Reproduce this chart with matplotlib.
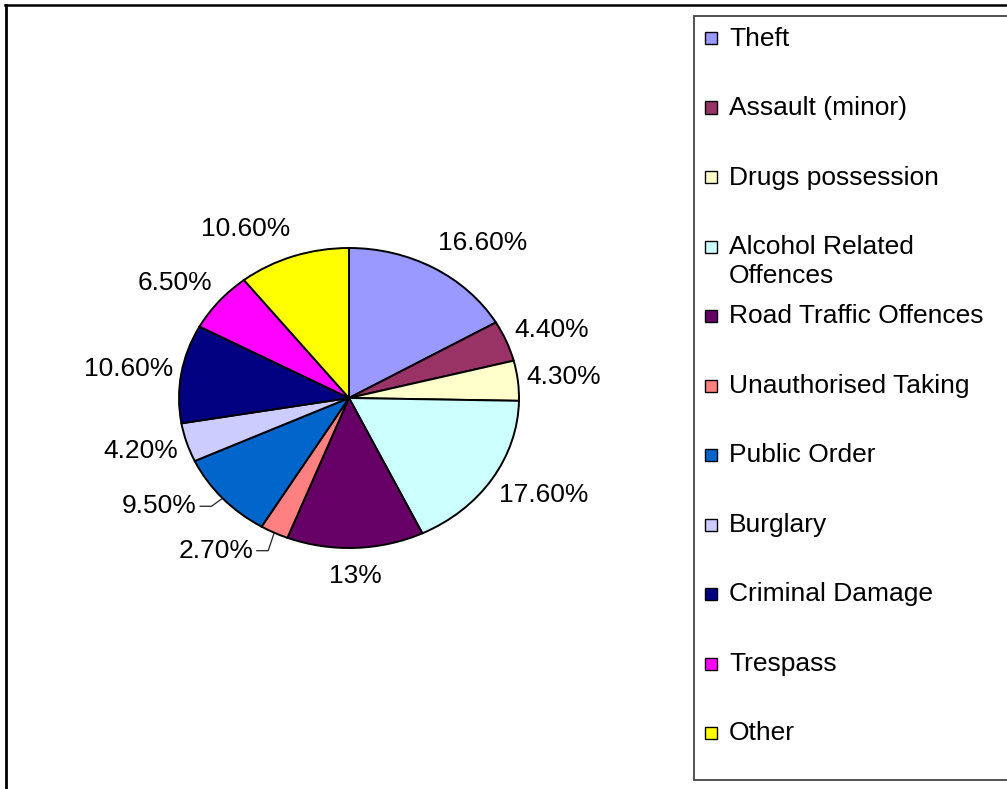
import matplotlib
matplotlib.use("Agg")
import numpy as np
import matplotlib.pyplot as plt
from matplotlib.patches import Rectangle
from matplotlib.lines import Line2D

# Offence categories and their share of the total (%)
categories = [
    "Theft", "Assault (minor)", "Drugs possession", "Alcohol Related\nOffences",
    "Road Traffic Offences", "Unauthorised Taking", "Public Order", "Burglary",
    "Criminal Damage", "Trespass", "Other",
]
shares = [16.6, 4.4, 4.3, 17.6, 13.0, 2.7, 9.5, 4.2, 10.6, 6.5, 10.6]
value_labels = ["16.60%", "4.40%", "4.30%", "17.60%", "13%", "2.70%",
                "9.50%", "4.20%", "10.60%", "6.50%", "10.60%"]
colors = ["#9999FF", "#993366", "#FFFFCC", "#CCFFFF", "#660066", "#FF8080",
          "#0066CC", "#CCCCFF", "#000080", "#FF00FF", "#FFFF00"]

plt.rcParams['font.family'] = ['Liberation Sans', 'DejaVu Sans']
FS = 19

W, H, DPI = 1007, 789, 100
fig = plt.figure(figsize=(W / DPI, H / DPI), dpi=DPI)
fig.patch.set_facecolor("white")

# Pie placement (pixels): centre and the two radii of the flattened pie
cx, cy = 349, 398
rx, ry = 170, 150
lim = 1.6
ax = fig.add_axes([(cx - lim * rx) / W, (H - cy - lim * ry) / H,
                   2 * lim * rx / W, 2 * lim * ry / H])
wedges, _ = ax.pie(shares, colors=colors, startangle=90, counterclock=False,
                   wedgeprops=dict(edgecolor="black", linewidth=1.4))
ax.set_aspect("auto")
ax.set_xlim(-lim, lim)
ax.set_ylim(-lim, lim)
ax.axis("off")

# Labels pulled away from the crowded lower-left, with leader lines
# (label right-end offset in px from the wedge edge, elbow x offset in px)
leader = {5: (-21, 18, -6), 6: (-26, 8, -11)}

px_x, px_y = 1.0 / rx, 1.0 / ry
for i, (w, txt) in enumerate(zip(wedges, value_labels)):
    mid = np.deg2rad((w.theta1 + w.theta2) / 2)
    ux, uy = np.cos(mid), np.sin(mid)
    if i in leader:
        dx, dy, ex = leader[i]
        x0, y0 = ux, uy
        xe, ye = x0 + ex * px_x, y0 - dy * px_y
        xl = x0 + (dx + 3) * px_x
        ax.plot([x0, xe, xl], [y0, ye, ye], color="#222222", lw=0.9,
                solid_capstyle="butt")
        ax.text(x0 + dx * px_x, ye, txt, ha="right", va="center",
                fontsize=FS, color="black")
        continue
    if abs(ux) < 0.1:
        ha = "center"
    elif ux > 0:
        ha = "left"
    else:
        ha = "right"
    ax.text(1.05 * ux, 1.19 * uy, txt, ha=ha, va="center",
            fontsize=FS, color="black")

# Outer chart frame (top and left edges)
fig.add_artist(Line2D([5 / W, 1.0], [1 - 5 / H, 1 - 5 / H],
                      transform=fig.transFigure, color="black", lw=1.8))
fig.add_artist(Line2D([6 / W, 6 / W], [1 - 5 / H, 0.0],
                      transform=fig.transFigure, color="black", lw=2.0))

# Legend box drawn in pixel space
lx0, ly0, lx1, ly1 = 694, 16, 1015, 780
fig.add_artist(Rectangle((lx0 / W, 1 - ly1 / H), (lx1 - lx0) / W,
                         (ly1 - ly0) / H, transform=fig.transFigure,
                         facecolor="white", edgecolor="#444444", lw=1.3))

step = 69.5
for i, (name, col) in enumerate(zip(categories, colors)):
    yc = 37 + i * step
    sq = 12
    fig.add_artist(Rectangle((705 / W, 1 - (yc + sq / 2 + 1) / H), sq / W, sq / H,
                             transform=fig.transFigure, facecolor=col,
                             edgecolor="black", lw=1.0))
    for k, line in enumerate(name.split("\n")):
        fig.text(729 / W, 1 - (yc + 8.5 + k * 29) / H, line, ha="left",
                 va="baseline", fontsize=FS, color="black")

fig.savefig("out.png", dpi=DPI, facecolor="white")
